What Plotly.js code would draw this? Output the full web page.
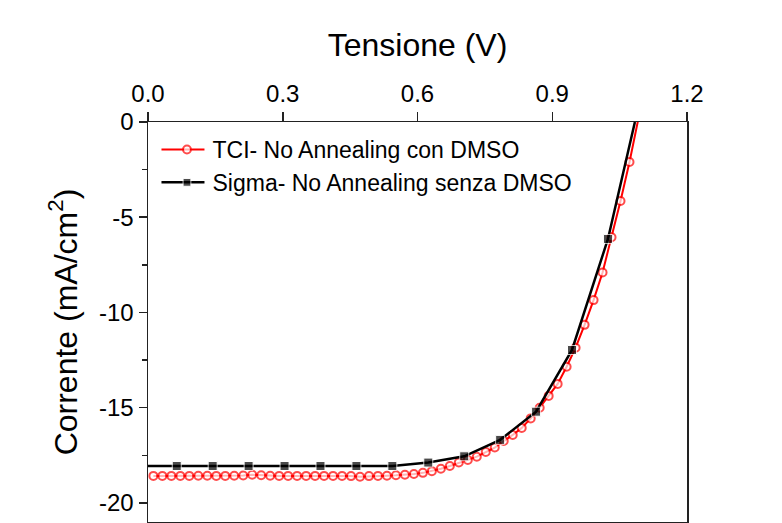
<!DOCTYPE html>
<html>
<head>
<meta charset="utf-8">
<script src="https://cdn.plot.ly/plotly-3.0.1.min.js"></script>
<style>html,body{margin:0;padding:0;background:#fff;}#chart{width:782px;height:523px;}</style>
</head>
<body>
<div id="chart"></div>
<script>
// TCI- No Annealing con DMSO (red, open circles)
const tciV = [0.012,0.032,0.052,0.072,0.092,0.112,0.132,0.152,0.172,0.192,0.212,0.232,0.252,0.272,0.292,0.312,0.332,0.352,0.372,0.392,0.412,0.432,0.452,0.472,0.492,0.512,0.532,0.552,0.572,0.592,0.612,0.632,0.652,0.672,0.692,0.712,0.732,0.752,0.772,0.792,0.812,0.832,0.852,0.872,0.892,0.912,0.932,0.952,0.972,0.992,1.012,1.032,1.052,1.072,1.092];
const tciI = [-18.58,-18.58,-18.58,-18.58,-18.58,-18.57,-18.57,-18.58,-18.58,-18.57,-18.56,-18.52,-18.55,-18.57,-18.58,-18.58,-18.58,-18.58,-18.58,-18.58,-18.58,-18.58,-18.59,-18.62,-18.59,-18.58,-18.57,-18.55,-18.52,-18.48,-18.42,-18.33,-18.20,-18.06,-17.88,-17.74,-17.57,-17.32,-17.09,-16.75,-16.43,-16.06,-15.56,-15.00,-14.38,-13.75,-12.85,-11.85,-10.65,-9.35,-7.90,-6.05,-4.15,-2.10,0.20];
// Sigma- No Annealing senza DMSO (black, filled squares)
const sigmaV = [0.000,0.064,0.144,0.224,0.304,0.384,0.464,0.544,0.624,0.704,0.784,0.864,0.944,1.024,1.084];
const sigmaI = [-18.06,-18.06,-18.06,-18.06,-18.06,-18.06,-18.06,-18.06,-17.88,-17.55,-16.69,-15.21,-11.97,-6.14,0.00];

const seriesNames = ['TCI- No Annealing con DMSO','Sigma- No Annealing senza DMSO'];
const xTickVals = [0,0.3,0.6,0.9,1.2];
const xTickText = ['0.0','0.3','0.6','0.9','1.2'];
const yTickVals = [0,-5,-10,-15,-20];
const yTickText = ['0','-5','-10','-15','-20'];

const FONT = 'Liberation Sans, Arial, Helvetica, sans-serif';

const tciSizes = tciV.map((v,i)=> i===tciV.length-1 ? 0 : 8);
const sigmaSizes = sigmaV.map((v,i)=> (i===0 || i===sigmaV.length-1) ? 0 : 9);

const traces = [
  {
    x: tciV, y: tciI, name: seriesNames[0], type: 'scatter', mode: 'lines+markers',
    line: {color: '#ff0000', width: 2},
    marker: {symbol: 'circle', size: tciSizes, color: '#ffffff', line: {color: '#ff0000', width: 2}}
  },
  {
    x: sigmaV, y: sigmaI, name: seriesNames[1], type: 'scatter', mode: 'lines+markers',
    line: {color: '#000000', width: 2.5},
    marker: {symbol: 'square', size: sigmaSizes, color: '#000000'}
  }
];

const layout = {
  width: 782, height: 523,
  margin: {l: 148, r: 95, t: 122, b: 1, pad: 0},
  paper_bgcolor: '#ffffff', plot_bgcolor: '#ffffff',
  font: {family: FONT, color: '#000000', size: 24},
  showlegend: true,
  legend: {
    x: 0.025, y: 0.985, xanchor: 'left', yanchor: 'top',
    bgcolor: 'rgba(0,0,0,0)', borderwidth: 0, itemwidth: 41,
    font: {family: FONT, size: 23, color: '#000000'},
    tracegroupgap: 0
  },
  xaxis: {
    side: 'top', range: [0, 1.2], tickmode: 'array', tickvals: xTickVals, ticktext: xTickText,
    ticks: 'outside', ticklen: 9, tickwidth: 1.5, tickcolor: '#222',
    showline: true, linecolor: '#222', linewidth: 1.5, mirror: true,
    showgrid: false, zeroline: false,
    tickfont: {family: FONT, size: 24, color: '#000'},
    title: {text: 'Tensione (V)', font: {family: FONT, size: 32, color: '#000'}, standoff: 13}
  },
  yaxis: {
    range: [-21, 0], tickmode: 'array', tickvals: yTickVals, ticktext: yTickText,
    ticks: 'outside', ticklen: 8, tickwidth: 1.5, tickcolor: '#222',
    minor: {dtick: 2.5, tick0: 0, ticks: 'outside', ticklen: 5, tickwidth: 1.5, tickcolor: '#222', showgrid: false},
    showline: true, linecolor: '#222', linewidth: 1.5, mirror: true,
    showgrid: false, zeroline: false,
    tickfont: {family: FONT, size: 24, color: '#000'},
    title: {text: 'Corrente (mA/cm<sup>2</sup>)', font: {family: FONT, size: 32, color: '#000'}, standoff: 12}
  }
};

Plotly.newPlot('chart', traces, layout, {displayModeBar: false, staticPlot: true}).then(function(gd){
  // lengthen the legend line symbols to match the reference
  gd.querySelectorAll('.legend .legendlines path').forEach(function(p){
    p.setAttribute('d', 'M-3,0h46');
  });
});
</script>
</body>
</html>
